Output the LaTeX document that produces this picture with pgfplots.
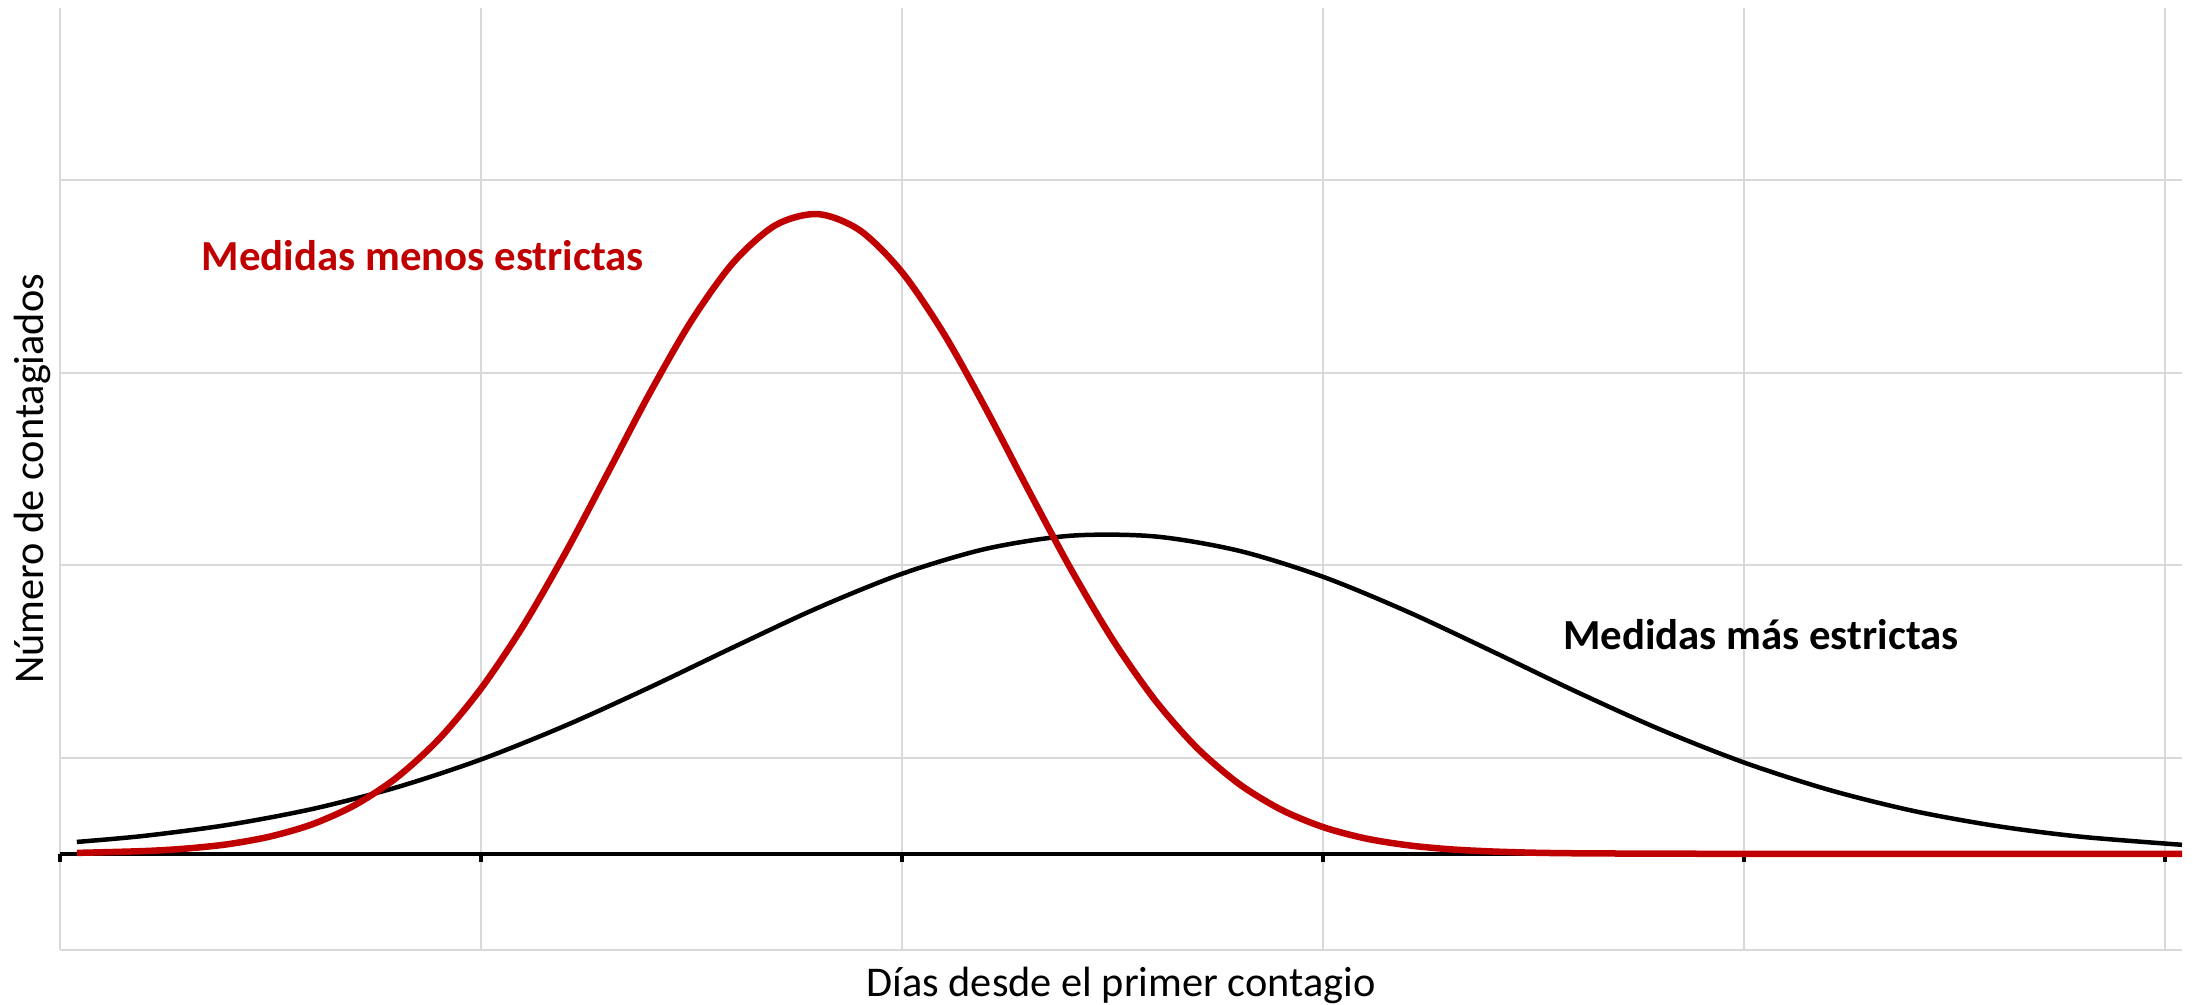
\documentclass[border=0pt]{standalone}
\usepackage{fontspec}
\setmainfont{Carlito}
\usepackage{pgfplots}
\pgfplotsset{compat=1.18}

\definecolor{rojo}{HTML}{C00000}
\definecolor{rejilla}{HTML}{D9D9D9}

\begin{document}
\begin{tikzpicture}
  \begin{axis}[
      at={(0,0)}, anchor=south west,
      scale only axis,
      width=636.6pt, height=282.6pt,
      xmin=0, xmax=5.04,
      ymin=-1, ymax=8.79,
      xtick={0,1,2,3,4,5},
      ytick={-1,1,3,5,7},
      xticklabels={}, yticklabels={},
      major tick length=0pt,
      grid=major,
      grid style={rejilla, line width=0.6pt},
      axis line style={draw=none},
      clip=false,
      xlabel={Días desde el primer contagio},
      ylabel={Número de contagiados},
      label style={font=\fontsize{12.7}{15}\selectfont},
      xlabel style={at={(axis description cs:0.5,0)}, anchor=center, yshift=-10.6pt},
      ylabel style={at={(axis description cs:0,0.5)}, anchor=center, yshift=8.4pt},
    ]

    % eje horizontal en y = 0 con sus marcas
    \draw[black, line width=1.2pt] (axis cs:0,0) -- (axis cs:5.04,0);
    \pgfplotsinvokeforeach{0,1,2,3,4,5}{
      \draw[black, line width=1.2pt] (axis cs:#1,0) -- ([yshift=-2.6pt]axis cs:#1,0);
    }

    % medidas mas estrictas
    \addplot[black, line width=1.35pt, smooth] coordinates {
      (0.04,0.123) (0.2,0.186) (0.4,0.301) (0.6,0.466) (0.8,0.691)
      (1.0,0.980) (1.2,1.331) (1.4,1.728) (1.6,2.148) (1.8,2.556)
      (2.0,2.910) (2.2,3.170) (2.4,3.305) (2.6,3.298)
      (2.8,3.149) (3.0,2.878) (3.2,2.517) (3.4,2.107) (3.6,1.687)
      (3.8,1.293) (4.0,0.948) (4.2,0.666) (4.4,0.447) (4.6,0.288)
      (4.8,0.177) (5.04,0.093)
    };

    % medidas menos estrictas
    \addplot[rojo, line width=1.95pt, smooth] coordinates {
      (0.04,0.009) (0.2,0.028) (0.3,0.054) (0.4,0.100) (0.5,0.180)
      (0.6,0.308) (0.7,0.505) (0.8,0.793) (0.9,1.192) (1.0,1.717)
      (1.1,2.367) (1.2,3.124) (1.3,3.949) (1.4,4.781) (1.5,5.541)
      (1.6,6.149) (1.7,6.534) (1.8,6.648) (1.9,6.478) (2.0,6.043)
      (2.1,5.399) (2.2,4.617) (2.3,3.781) (2.4,2.966) (2.5,2.227)
      (2.6,1.601) (2.7,1.102) (2.8,0.727) (2.9,0.459) (3.0,0.277)
      (3.1,0.160) (3.2,0.089) (3.3,0.047) (3.4,0.024) (3.5,0.011)
      (3.6,0.005) (3.8,0.001) (4.0,0.0) (5.04,0.0)
    };

    \node[text=rojo, font=\bfseries\fontsize{12.85}{15}\selectfont]
      at (axis cs:0.862,6.22) {Medidas menos estrictas};
    \node[text=black, font=\bfseries\fontsize{12.85}{15}\selectfont]
      at (axis cs:4.04,2.28) {Medidas más estrictas};
  \end{axis}
  \pgfresetboundingbox
  \path (-18pt,-16.5pt) rectangle (639.9pt,285pt);
\end{tikzpicture}
\end{document}
